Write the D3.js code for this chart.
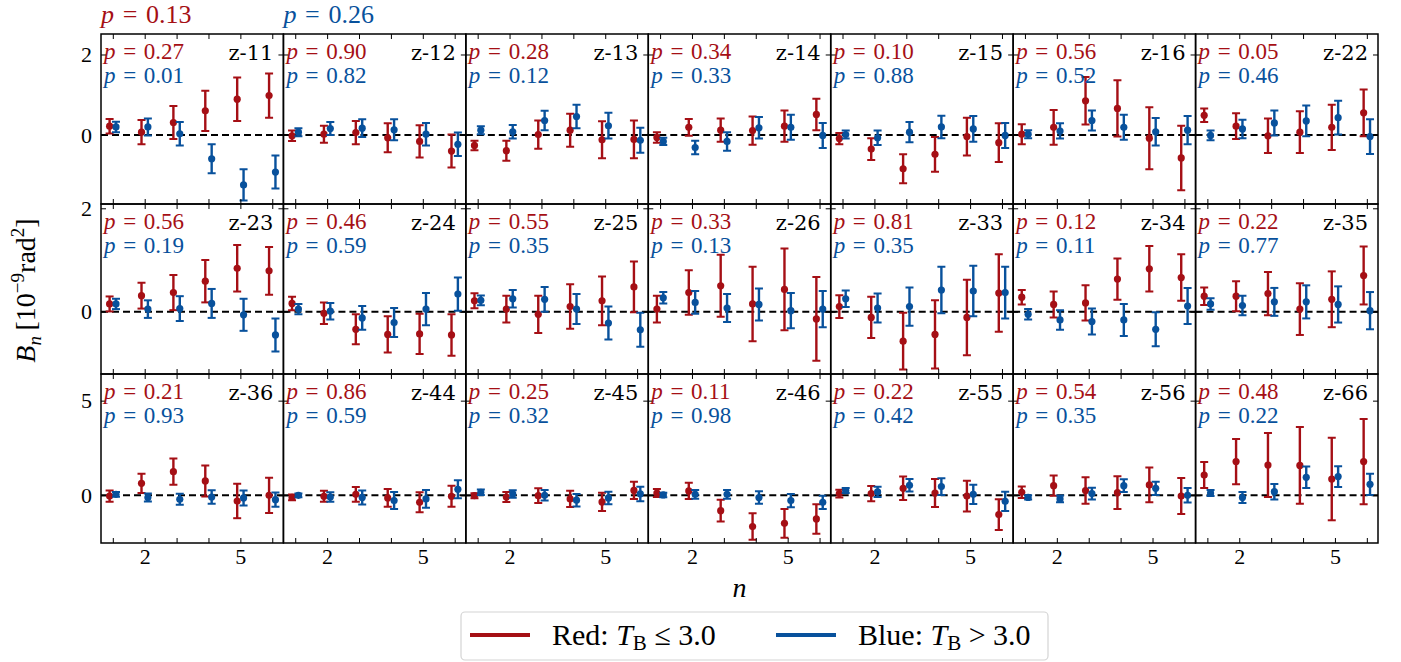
<!DOCTYPE html>
<html>
<head>
<meta charset="utf-8">
<script src="https://cdn.jsdelivr.net/npm/d3@7"></script>
<style>
  html, body { margin: 0; padding: 0; background: #fff; }
  svg { display: block; }
  svg text { font-family: "Liberation Serif", "DejaVu Serif", serif; }
  svg text.dvs { font-family: "DejaVu Serif", serif; }
</style>
</head>
<body>
<script>
// ---------------- DATA ----------------
const categories = ["z-11","z-12","z-13","z-14","z-15","z-16","z-22",
                    "z-23","z-24","z-25","z-26","z-33","z-34","z-35",
                    "z-36","z-44","z-45","z-46","z-55","z-56","z-66"];
const nValues = [1, 2, 3, 4, 5, 6];
const xTickLabels = [2, 5];
const yTickValuesByRow = [[0, 2], [0, 2], [0, 5]];
const combinedP = [0.13, 0.26];   // red, blue
const redP  = [0.27,0.90,0.28,0.34,0.10,0.56,0.05, 0.56,0.46,0.55,0.33,0.81,0.12,0.22, 0.21,0.86,0.25,0.11,0.22,0.54,0.48];
const blueP = [0.01,0.82,0.12,0.33,0.88,0.52,0.46, 0.19,0.59,0.35,0.13,0.35,0.11,0.77, 0.93,0.59,0.32,0.98,0.42,0.35,0.22];

const redValues = [
  [0.22,0.07,0.31,0.60,0.89,0.98],
  [-0.02,0.02,0.06,-0.07,-0.16,-0.40],
  [-0.26,-0.39,0.01,0.12,-0.12,-0.11],
  [-0.06,0.19,0.12,0.11,0.22,0.51],
  [-0.09,-0.35,-0.84,-0.48,-0.04,-0.19],
  [0.02,0.19,0.85,0.66,-0.08,-0.57],
  [0.49,0.22,-0.02,0.07,0.19,0.55],
  [0.15,0.31,0.37,0.59,0.84,0.79],
  [0.16,-0.03,-0.34,-0.44,-0.43,-0.45],
  [0.21,0.05,-0.05,0.10,0.21,0.48],
  [0.05,0.37,0.50,0.15,0.43,-0.14],
  [0.10,-0.11,-0.57,-0.44,-0.11,0.36],
  [0.28,0.14,0.17,0.63,0.83,0.66],
  [0.30,0.30,0.35,0.05,0.24,0.70],
  [-0.04,0.63,1.25,0.76,-0.30,0.00],
  [-0.11,-0.05,0.05,-0.14,-0.37,-0.05],
  [-0.02,-0.09,-0.02,-0.19,-0.35,0.26],
  [0.12,0.23,-0.81,-1.65,-1.48,-1.25],
  [0.09,0.09,0.37,0.12,-0.04,-1.02],
  [0.16,0.51,0.25,0.14,0.55,-0.04],
  [1.07,1.78,1.60,1.58,0.86,1.78]
];
const redErrors = [
  [0.18,0.30,0.41,0.50,0.54,0.55],
  [0.13,0.21,0.29,0.36,0.40,0.41],
  [0.12,0.25,0.35,0.41,0.46,0.47],
  [0.13,0.21,0.29,0.35,0.39,0.39],
  [0.14,0.27,0.36,0.43,0.47,0.48],
  [0.25,0.43,0.59,0.70,0.77,0.80],
  [0.17,0.32,0.43,0.52,0.56,0.58],
  [0.145,0.25,0.34,0.41,0.45,0.46],
  [0.13,0.21,0.29,0.35,0.39,0.40],
  [0.145,0.26,0.36,0.43,0.47,0.49],
  [0.26,0.43,0.60,0.72,0.79,0.81],
  [0.22,0.40,0.55,0.66,0.73,0.75],
  [0.14,0.25,0.34,0.40,0.44,0.45],
  [0.17,0.29,0.42,0.50,0.54,0.56],
  [0.30,0.51,0.69,0.82,0.91,0.93],
  [0.15,0.29,0.39,0.47,0.53,0.55],
  [0.13,0.27,0.39,0.43,0.48,0.46],
  [0.21,0.43,0.57,0.70,0.76,0.78],
  [0.20,0.40,0.62,0.74,0.81,0.81],
  [0.30,0.54,0.70,0.86,0.92,0.95],
  [0.69,1.19,1.69,2.03,2.18,2.25]
];
const blueValues = [
  [0.20,0.20,0.03,-0.59,-1.24,-0.92],
  [0.07,0.16,0.17,0.13,0.02,-0.23],
  [0.12,0.08,0.36,0.46,0.23,-0.13],
  [-0.16,-0.31,-0.16,0.18,0.19,-0.01],
  [0.01,-0.07,0.07,0.20,0.15,-0.01],
  [0.02,0.10,0.36,0.19,0.08,0.12],
  [-0.01,0.15,0.30,0.35,0.43,-0.04],
  [0.15,0.05,0.06,0.16,-0.06,-0.45],
  [0.05,0.01,-0.12,-0.21,0.05,0.34],
  [0.22,0.25,0.24,0.05,-0.22,-0.35],
  [0.27,0.18,0.07,0.14,0.02,0.05],
  [0.25,0.07,0.10,0.42,0.40,0.37],
  [-0.05,-0.16,-0.19,-0.16,-0.34,0.11],
  [0.15,0.12,0.19,0.19,0.14,0.02],
  [0.05,-0.12,-0.21,-0.09,-0.14,-0.23],
  [0.00,-0.09,-0.11,-0.28,-0.19,0.32],
  [0.16,0.07,0.00,-0.26,-0.14,0.07],
  [0.02,0.05,0.05,-0.12,-0.28,-0.37],
  [0.25,0.18,0.53,0.46,0.05,-0.32],
  [-0.11,-0.19,0.09,0.51,0.37,0.00],
  [0.12,-0.12,0.19,0.95,0.99,0.58]
];
const blueErrors = [
  [0.13,0.21,0.29,0.36,0.39,0.41],
  [0.10,0.16,0.22,0.26,0.28,0.29],
  [0.10,0.17,0.24,0.29,0.32,0.31],
  [0.09,0.17,0.23,0.27,0.31,0.31],
  [0.10,0.18,0.25,0.28,0.32,0.31],
  [0.10,0.19,0.25,0.31,0.34,0.35],
  [0.12,0.23,0.31,0.38,0.42,0.43],
  [0.10,0.17,0.24,0.28,0.31,0.32],
  [0.10,0.16,0.23,0.28,0.31,0.32],
  [0.095,0.17,0.24,0.29,0.32,0.33],
  [0.11,0.22,0.27,0.31,0.34,0.35],
  [0.16,0.28,0.37,0.45,0.49,0.50],
  [0.10,0.19,0.25,0.31,0.33,0.35],
  [0.11,0.19,0.27,0.32,0.35,0.36],
  [0.13,0.21,0.29,0.36,0.40,0.38],
  [0.10,0.25,0.37,0.45,0.47,0.48],
  [0.14,0.20,0.28,0.33,0.33,0.38],
  [0.12,0.23,0.23,0.33,0.35,0.35],
  [0.13,0.27,0.33,0.44,0.51,0.51],
  [0.11,0.18,0.31,0.34,0.35,0.38],
  [0.16,0.29,0.41,0.57,0.55,0.56]
];

// ---------------- LAYOUT ----------------
const W = 1401, H = 662;
const RED = "#a50f15", BLUE = "#08519c";
const plotLeft = 101, plotRight = 1378;
const rowEdges = [34, 204, 374, 543];
const nCols = 7;
const colW = (plotRight - plotLeft) / nCols;
const xDomain = [0.63, 6.35];
const rowYDomain = [[-1.714, 2.509], [-1.205, 2.083], [-2.52, 6.408]];
const offset = 0.1;

const svg = d3.select("body").append("svg")
  .attr("width", W).attr("height", H)
  .attr("viewBox", `0 0 ${W} ${H}`);
svg.append("rect").attr("width", W).attr("height", H).attr("fill", "#fff");
const defs = svg.append("defs");

function mathP(sel, val) {
  sel.append("tspan").style("font-style", "italic").text("p");
  sel.append("tspan").text("\u2004=\u2004" + val.toFixed(2));
}

categories.forEach((cat, i) => {
  const row = Math.floor(i / nCols), col = i % nCols;
  const x0 = plotLeft + col * colW, x1 = x0 + colW;
  const yTop = rowEdges[row], yBot = rowEdges[row + 1];
  const x = d3.scaleLinear().domain(xDomain).range([x0, x1]);
  const y = d3.scaleLinear().domain(rowYDomain[row]).range([yBot, yTop]);

  defs.append("clipPath").attr("id", "clip" + i)
    .append("rect").attr("x", x0).attr("y", yTop).attr("width", colW).attr("height", yBot - yTop);

  const g = svg.append("g");
  const pg = g.append("g").attr("clip-path", `url(#clip${i})`);

  pg.append("line")
    .attr("x1", x0).attr("x2", x1).attr("y1", y(0)).attr("y2", y(0))
    .attr("stroke", "#000").attr("stroke-width", 2).attr("stroke-dasharray", "7,4");

  const series = [
    { vals: redValues[i], errs: redErrors[i], color: RED, off: -offset },
    { vals: blueValues[i], errs: blueErrors[i], color: BLUE, off: offset }
  ];
  series.forEach(s => {
    const data = nValues.map((n, j) => ({ n: n + s.off, v: s.vals[j], e: s.errs[j] }));
    const sg = pg.append("g");
    sg.selectAll("line.bar").data(data).join("line").attr("class", "bar")
      .attr("x1", d => x(d.n)).attr("x2", d => x(d.n))
      .attr("y1", d => y(d.v - d.e)).attr("y2", d => y(d.v + d.e))
      .attr("stroke", s.color).attr("stroke-width", 2.4);
    sg.selectAll("line.capt").data(data).join("line").attr("class", "capt")
      .attr("x1", d => x(d.n) - 4).attr("x2", d => x(d.n) + 4)
      .attr("y1", d => y(d.v + d.e)).attr("y2", d => y(d.v + d.e))
      .attr("stroke", s.color).attr("stroke-width", 2);
    sg.selectAll("line.capb").data(data).join("line").attr("class", "capb")
      .attr("x1", d => x(d.n) - 4).attr("x2", d => x(d.n) + 4)
      .attr("y1", d => y(d.v - d.e)).attr("y2", d => y(d.v - d.e))
      .attr("stroke", s.color).attr("stroke-width", 2);
    sg.selectAll("circle").data(data).join("circle")
      .attr("cx", d => x(d.n)).attr("cy", d => y(d.v)).attr("r", 3.6)
      .attr("fill", s.color);
  });

  const axB = d3.axisBottom(x).tickValues(nValues).tickSize(-5).tickPadding(5)
    .tickFormat(d => (row === 2 && xTickLabels.includes(d)) ? d : "");
  const axT = d3.axisTop(x).tickValues(nValues).tickSize(-5).tickFormat("");
  const axL = d3.axisLeft(y).tickValues(yTickValuesByRow[row]).tickSize(-5).tickPadding(9)
    .tickFormat(d => col === 0 ? d : "");
  const axR = d3.axisRight(y).tickValues(yTickValuesByRow[row]).tickSize(-5).tickFormat("");
  const axes = [
    g.append("g").attr("transform", `translate(0,${yBot})`).call(axB),
    g.append("g").attr("transform", `translate(0,${yTop})`).call(axT),
    g.append("g").attr("transform", `translate(${x0},0)`).call(axL),
    g.append("g").attr("transform", `translate(${x1},0)`).call(axR)
  ];
  axes.forEach(a => {
    a.select(".domain").remove();
    a.attr("font-family", null).attr("font-size", null);
    a.selectAll(".tick line").attr("stroke", "#000").attr("stroke-width", 1);
    a.selectAll(".tick text").attr("fill", "#000").style("font-size", "22px");
  });

  g.append("rect").attr("x", x0).attr("y", yTop).attr("width", colW).attr("height", yBot - yTop)
    .attr("fill", "none").attr("stroke", "#000").attr("stroke-width", 1.5);

  g.append("text").attr("class", "dvs").attr("x", x1 - 10).attr("y", yTop + 26)
    .attr("text-anchor", "end").style("font-size", "21px")
    .attr("fill", "#000").text(cat);

  const tr = g.append("text").attr("x", x0 + 3).attr("y", yTop + 25)
    .style("font-size", "23px").attr("fill", RED);
  mathP(tr, redP[i]);
  const tb = g.append("text").attr("x", x0 + 3).attr("y", yTop + 49)
    .style("font-size", "23px").attr("fill", BLUE);
  mathP(tb, blueP[i]);
});

[RED, BLUE].forEach((c, k) => {
  const t = svg.append("text").attr("x", plotLeft + k * colW).attr("y", 23)
    .style("font-size", "26px").attr("fill", c);
  mathP(t, combinedP[k]);
});

svg.append("text").attr("x", (plotLeft + plotRight) / 2).attr("y", 597)
  .attr("text-anchor", "middle").style("font-size", "28px")
  .style("font-style", "italic").text("n");

const yl = svg.append("text")
  .attr("transform", `translate(35,${(rowEdges[0] + rowEdges[3]) / 2 + 2}) rotate(-90)`)
  .attr("text-anchor", "middle").style("font-size", "28px").attr("fill", "#000");
yl.append("tspan").style("font-style", "italic").text("B");
yl.append("tspan").style("font-style", "italic").style("font-size", "19px").attr("dy", 6).text("n");
yl.append("tspan").attr("dy", -6).text("\u2009[10");
yl.append("tspan").style("font-size", "19px").attr("dy", -11).text("\u22129");
yl.append("tspan").attr("dy", 11).text("rad");
yl.append("tspan").style("font-size", "19px").attr("dy", -11).text("2");
yl.append("tspan").attr("dy", 11).text("]");

const lg = svg.append("g");
lg.append("rect").attr("x", 461).attr("y", 612).attr("width", 587).attr("height", 48)
  .attr("rx", 4).attr("fill", "#fff").attr("stroke", "#d4d4d4").attr("stroke-width", 1.2);
const legendItems = [
  { color: RED, lx: 470, tx: 552, label: "Red: ", op: " \u2264 3.0" },
  { color: BLUE, lx: 776, tx: 858, label: "Blue: ", op: " > 3.0" }
];
legendItems.forEach(it => {
  lg.append("line").attr("x1", it.lx).attr("x2", it.lx + 60).attr("y1", 635).attr("y2", 635)
    .attr("stroke", it.color).attr("stroke-width", 4);
  const t = lg.append("text").attr("x", it.tx).attr("y", 645)
    .style("font-size", "30px").attr("fill", "#000");
  t.append("tspan").text(it.label);
  t.append("tspan").style("font-style", "italic").text("T");
  t.append("tspan").style("font-size", "21px").attr("dy", 5).text("B");
  t.append("tspan").attr("dy", -5).text(it.op);
});
</script>
</body>
</html>
